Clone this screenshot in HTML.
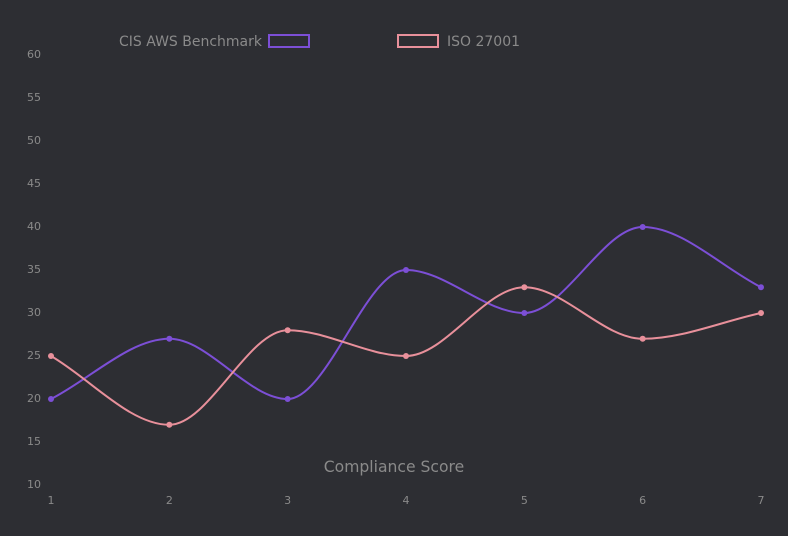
<!DOCTYPE html>
<html><head><meta charset="utf-8"><style>
html,body{margin:0;padding:0;background:#2d2e33;}
svg{display:block;font-family:"DejaVu Sans","Liberation Sans",sans-serif;}
</style></head><body>
<svg id="chart" width="788" height="536" viewBox="0 0 788 536">
<rect width="788" height="536" fill="#2d2e33"/>
<g id="yaxis"></g>
<g id="xaxis"></g>
<text x="394" y="472" text-anchor="middle" font-size="15.6" fill="#8a8a8a">Compliance Score</text>
<g>
<text x="262" y="46" text-anchor="end" font-size="14" fill="#8a8a8a">CIS AWS Benchmark</text>
<rect x="269" y="35" width="40" height="12" fill="none" stroke="#7c4fd6" stroke-width="2"/>
</g>
<g>
<rect x="398" y="35" width="40" height="12" fill="none" stroke="#e8909b" stroke-width="2"/>
<text x="447" y="46" font-size="14" fill="#8a8a8a">ISO 27001</text>
</g>
<g id="series"></g>
</svg>
<script>
const categories = [1,2,3,4,5,6,7];
const cisValues = [20,27,20,35,30,40,33];
const isoValues = [25,17,28,25,33,27,30];
const yTicks = [10,15,20,25,30,35,40,45,50,55,60];

const NS = "http://www.w3.org/2000/svg";
const x0 = 51, x1 = 761, yTop = 54, yBot = 484, yMin = 10, yMax = 60;
function xScale(i){ return x0 + (x1 - x0) * i / (categories.length - 1); }
function yScale(v){ return yBot + 1 - (v - yMin) / (yMax - yMin) * (yBot - yTop); }

const yg = document.getElementById('yaxis');
yTicks.forEach(t => {
  const el = document.createElementNS(NS,'text');
  el.setAttribute('x', 41); el.setAttribute('y', yBot - (t - yMin) / (yMax - yMin) * (yBot - yTop) + 4);
  el.setAttribute('text-anchor','end'); el.setAttribute('font-size','11');
  el.setAttribute('fill','#8a8a8a');
  
  
  el.textContent = t; yg.appendChild(el);
});
const xg = document.getElementById('xaxis');
categories.forEach((c,i) => {
  const el = document.createElementNS(NS,'text');
  el.setAttribute('x', xScale(i)); el.setAttribute('y', 504);
  el.setAttribute('text-anchor','middle'); el.setAttribute('font-size','11');
  el.setAttribute('fill','#8a8a8a');
  
  
  el.textContent = c; xg.appendChild(el);
});

function monotonePath(pts){
  const n = pts.length, dx = [], s = [], m = [];
  for (let i=0;i<n-1;i++){ dx[i]=pts[i+1][0]-pts[i][0]; s[i]=(pts[i+1][1]-pts[i][1])/dx[i]; }
  for (let i=0;i<n;i++){
    if (i===0) m[i]=s[0];
    else if (i===n-1) m[i]=s[n-2];
    else if (s[i-1]*s[i]<=0) m[i]=0;
    else m[i]=(s[i-1]+s[i])/2;
  }
  for (let i=0;i<n-1;i++){
    if (s[i]===0){ m[i]=0; m[i+1]=0; continue; }
    const a=m[i]/s[i], b=m[i+1]/s[i], h=a*a+b*b;
    if (h>9){ const t=3/Math.sqrt(h); m[i]=t*a*s[i]; m[i+1]=t*b*s[i]; }
  }
  let d = `M${pts[0][0]},${pts[0][1]}`;
  for (let i=0;i<n-1;i++){
    const h=dx[i]/3;
    d += ` C${pts[i][0]+h},${pts[i][1]+m[i]*h} ${pts[i+1][0]-h},${pts[i+1][1]-m[i+1]*h} ${pts[i+1][0]},${pts[i+1][1]}`;
  }
  return d;
}
const sg = document.getElementById('series');
function drawSeries(vals, color, name){
  const pts = vals.map((v,i) => [xScale(i), yScale(v)]);
  const path = document.createElementNS(NS,'path');
  path.setAttribute('d', monotonePath(pts));
  path.setAttribute('fill','none'); path.setAttribute('stroke', color);
  path.setAttribute('stroke-width','2');
  
  
  sg.appendChild(path);
  pts.forEach(p => {
    const c = document.createElementNS(NS,'circle');
    c.setAttribute('cx', p[0]); c.setAttribute('cy', p[1]); c.setAttribute('r', 3);
    c.setAttribute('fill', color);
    
    
    sg.appendChild(c);
  });
}
drawSeries(cisValues, '#7c4fd6', 'cis');
drawSeries(isoValues, '#e8909b', 'iso');
</script>
</body></html>
